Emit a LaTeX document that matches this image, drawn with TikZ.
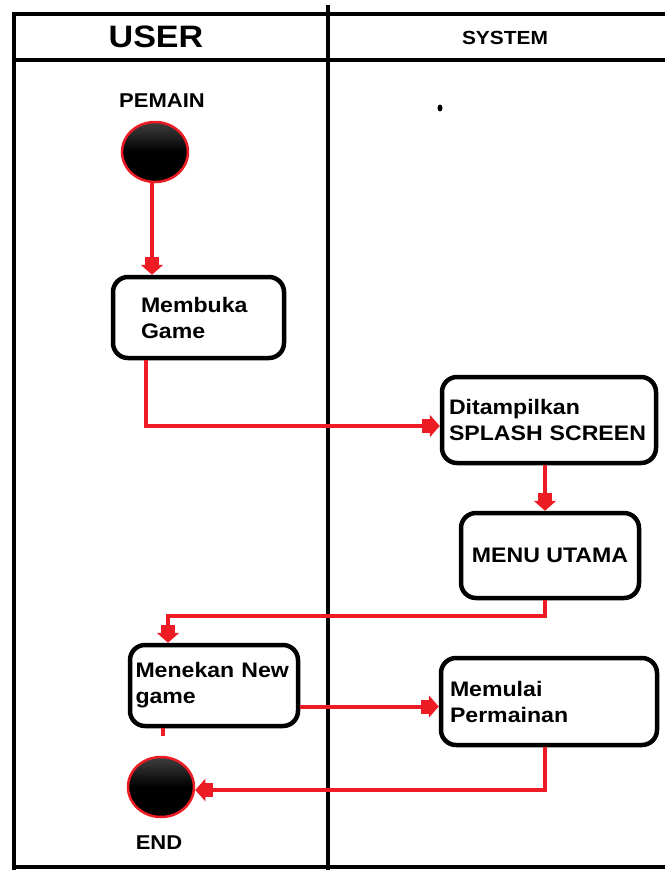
\documentclass[tikz,border=0pt]{standalone}
\usepackage{fontspec}
\setmainfont[FakeStretch=1.1]{Liberation Sans}
\usetikzlibrary{arrows.meta,shapes.geometric}
\definecolor{pred}{HTML}{ED1C24}
\begin{document}
\begin{tikzpicture}[x=1pt,y=-1pt,
  frame/.style={line width=4pt,black},
  actbox/.style={draw,line width=4.5pt,rounded corners=15pt,align=left,font=\fontsize{21}{26}\selectfont\bfseries,inner ysep=0pt},
  terminal/.style={ellipse,draw=pred,line width=2.5pt,top color=black!75,bottom color=black,middle color=black,minimum width=66pt,minimum height=60pt,inner sep=0pt},
  flow/.style={draw=pred,line width=4pt},
  arr/.style={flow,-{Rectangle[width=14pt,length=8pt,sep=0pt]Triangle[width=22pt,length=10pt]}},
  lbl/.style={font=\fontsize{20}{24}\selectfont\bfseries}
]
\useasboundingbox (0,0) rectangle (665,870);
\fill[white] (0,0) rectangle (665,870);
% swimlane frame
\draw[frame] (14,870) -- (14,14) -- (665,14);
\draw[frame] (14,60) -- (665,60);
\draw[frame] (14,867) -- (665,867);
\draw[frame] (328,5) -- (328,870);
\node (huser) at (156,37) {\fontsize{31}{32}\selectfont\bfseries USER};
\node (hsys) at (505,38) {\fontsize{19}{22}\selectfont\bfseries SYSTEM};
\fill[black] (440,108) ellipse (2.5pt and 3.5pt);
% nodes
\node[lbl] (pemain) at (162,101) {PEMAIN};
\node[terminal] (start) at (155,152) {};
\node[actbox,minimum width=171pt,minimum height=81pt,text width=115pt,inner xsep=28pt] (membuka) at (198.5,317.5) {Membuka\\Game};
\node[actbox,minimum width=214pt,minimum height=86pt,text width=200pt,inner xsep=7pt] (tampil) at (549,420) {Ditampilkan\\SPLASH SCREEN};
\node[actbox,minimum width=178pt,minimum height=85pt,align=center] (menu) at (550,555.5) {MENU UTAMA};
\node[actbox,minimum width=168pt,minimum height=81pt,text width=157pt,inner xsep=5.5pt] (menekan) at (214,685.5) {Menekan New\\game};
\node[actbox,minimum width=216pt,minimum height=87pt,text width=198pt,inner xsep=9pt] (mulai) at (549,701.5) {Memulai\\Permainan};
\node[terminal] (end) at (161,787) {};
\node[lbl] (endlbl) at (159,843) {END};
% connectors
\draw[arr] ([xshift=-3pt]start.south) -- ([xshift=-3pt]start.south |- membuka.north);
\draw[arr] ([xshift=35pt]membuka.south west) |- ([yshift=-6pt]tampil.west);
\draw[arr] ([xshift=-4pt]tampil.south) -- ([xshift=-4pt]tampil.south |- menu.north);
\draw[arr] ([xshift=-5pt]menu.south) |- ([xshift=-5pt]menu.south |- 0,616) -| ([xshift=-46pt]menekan.north);
\draw[flow] ([xshift=-51pt]menekan.south) -- ++(0,8);
\draw[arr] ([yshift=-21pt]menekan.east) -- ([yshift=-21pt]menekan.east -| mulai.west);
\draw[arr] ([xshift=-4pt]mulai.south) |- ([yshift=-3pt]end.east);
\end{tikzpicture}
\end{document}
